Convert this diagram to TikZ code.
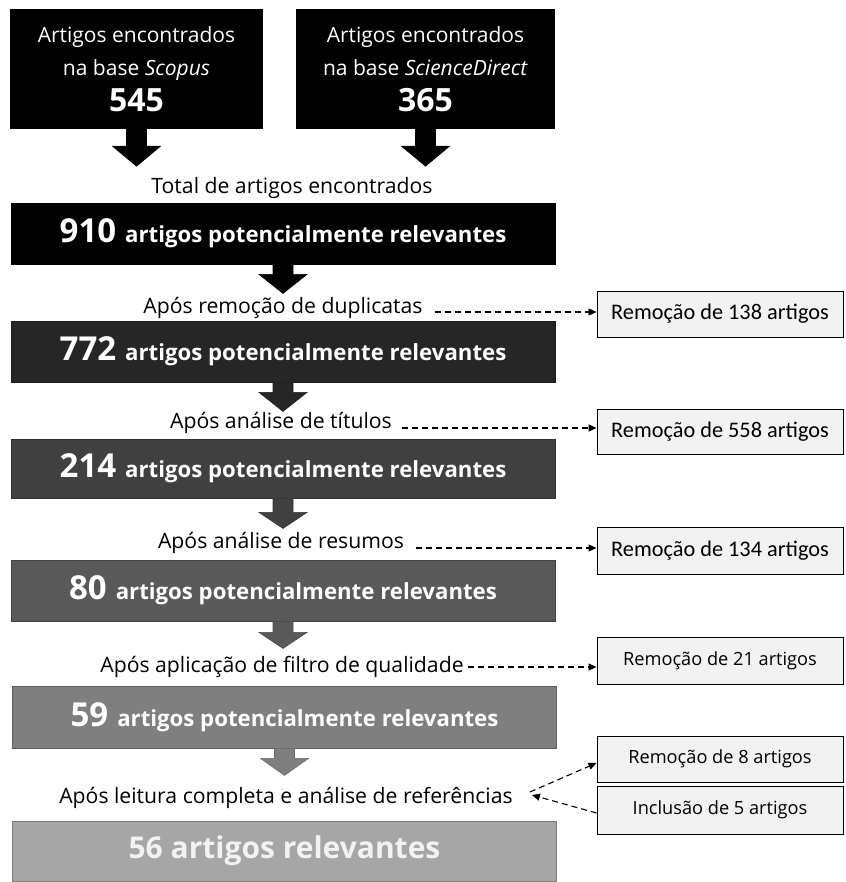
\documentclass[tikz,border=0pt]{standalone}
\usepackage{fontspec}
\setmainfont{Open Sans}
\newfontfamily\carl{Carlito}
\usetikzlibrary{calc,arrows.meta}

\definecolor{g0}{HTML}{000000}
\definecolor{g1}{HTML}{262626}
\definecolor{g2}{HTML}{404040}
\definecolor{g3}{HTML}{595959}
\definecolor{g4}{HTML}{7F7F7F}
\definecolor{g5}{HTML}{A6A6A6}
\definecolor{side}{HTML}{F2F2F2}

% block arrow hanging under a node: #1 node, #2 colour, #3 depth of head start, #4 depth of tip
\newcommand\blockdown[4]{%
  \coordinate (o) at (#1.south);
  \filldraw[fill=#2, draw=#2!85!black, line width=0.6pt]
    ($(o)+(-10,0)$) -- ($(o)+(-10,#3)$) -- ($(o)+(-24,#3)$) -- ($(o)+(0,#4)$)
    -- ($(o)+(24,#3)$) -- ($(o)+(10,#3)$) -- ($(o)+(10,0)$) -- cycle;}

\begin{document}
\begin{tikzpicture}[x=1pt,y=-1pt,
  srcbox/.style={fill=black, text=white, minimum height=120pt, inner sep=0pt, align=center, font=\fontsize{21}{33}\selectfont},
  stagebox/.style={fill=#1, draw=#1!75!black, line width=0.8pt, text=white, minimum width=544pt, minimum height=61pt, inner sep=0pt},
  steplabel/.style={inner sep=2pt, font=\fontsize{21.2}{21.2}\selectfont},
  sidebox/.style={fill=side, draw=black, line width=1pt, minimum width=246pt, minimum height=46pt, inner sep=0pt},
  flowdash/.style={dashed, dash pattern=on 6pt off 4pt, line width=1.1pt, -{Triangle[length=8pt,width=7pt]}},
]
\useasboundingbox (0,0) rectangle (845,882);

% sources
\node[srcbox, minimum width=253pt] (s1) at (136.5,69)
  {Artigos encontrados\\na base \textit{Scopus}\\[3pt]{\fontsize{32}{32}\bfseries\selectfont 545}};
\node[srcbox, minimum width=259pt] (s2) at (425.5,69)
  {Artigos encontrados\\na base \textit{ScienceDirect}\\[3pt]{\fontsize{32}{32}\bfseries\selectfont 365}};
\blockdown{s1}{g0}{17}{37}
\blockdown{s2}{g0}{17}{37}

\node[steplabel] (l0) at (292,188) {Total de artigos encontrados};

% filtering stages
\newcommand\stagetext[1]{{\fontsize{33}{33}\bfseries\selectfont #1}\hspace{9pt}{\fontsize{22.2}{22.2}\bfseries\selectfont artigos potencialmente relevantes}}
\node[stagebox=g0] (b910) at (283,233.5) {\stagetext{910}};
\blockdown{b910}{g0}{10}{29}
\node[steplabel] (l1) at (283,308) {Após remoção de duplicatas};
\node[stagebox=g1] (b772) at (283,351.5) {\stagetext{772}};
\blockdown{b772}{g1}{10}{29}
\node[steplabel] (l2) at (281,423) {Após análise de títulos};
\node[stagebox=g2, minimum height=59pt] (b214) at (283,468.5) {\stagetext{214}};
\blockdown{b214}{g2}{14}{30}
\node[steplabel] (l3) at (281,543) {Após análise de resumos};
\node[stagebox=g3] (b80) at (283,590.5) {\stagetext{80}};
\blockdown{b80}{g3}{11}{27}
\node[steplabel] (l4) at (282,667) {Após aplicação de filtro de qualidade};
\node[stagebox=g4, minimum height=62pt] (b59) at (284.5,717) {\stagetext{59}};
\blockdown{b59}{g4}{10}{27}
\node[steplabel] (l5) at (286,798) {Após leitura completa e análise de referências};
\node[stagebox=g5, minimum height=60pt, text=side] (b56) at (284.5,851)
  {\fontsize{30}{30}\bfseries\selectfont 56 artigos relevantes};

% removals and inclusions
\node[sidebox, font=\carl\fontsize{22.3}{22.3}\selectfont] (r1) at (720,314) {Remoção de 138 artigos};
\node[sidebox, minimum height=45pt, font=\carl\fontsize{22.3}{22.3}\selectfont] (r2) at (720,431.5) {Remoção de 558 artigos};
\node[sidebox, minimum height=47pt, font=\carl\fontsize{22.3}{22.3}\selectfont] (r3) at (720,550.5) {Remoção de 134 artigos};
\node[sidebox, minimum height=47pt, font=\fontsize{18.2}{18.2}\selectfont] (r4) at (720,660.5) {Remoção de 21 artigos};
\node[sidebox, font=\fontsize{18.2}{18.2}\selectfont] (r5) at (720,759) {Remoção de 8 artigos};
\node[sidebox, minimum height=48pt, font=\fontsize{18.2}{18.2}\selectfont] (r6) at (720,810) {Inclusão de 5 artigos};

\draw[flowdash] ([xshift=10pt,yshift=-4pt]l1.east) -- ([yshift=-4pt]l1.east -| r1.west);
\draw[flowdash] ([xshift=8pt,yshift=-5pt]l2.east) -- ([yshift=-5pt]l2.east -| r2.west);
\draw[flowdash] ([xshift=10pt,yshift=-5pt]l3.east) -- ([yshift=-5pt]l3.east -| r3.west);
\draw[flowdash] ([xshift=2pt]l4.east) -- (l4.east -| r4.west);
\coordinate (fromtext) at ([xshift=15pt,yshift=6pt]l5.east);
\coordinate (intotext) at ([xshift=17pt,yshift=3pt]l5.east);
\draw[flowdash] (fromtext) -- ([yshift=-4pt]r5.west);
\draw[flowdash] ([yshift=-3pt]r6.west) -- (intotext);
\end{tikzpicture}
\end{document}
